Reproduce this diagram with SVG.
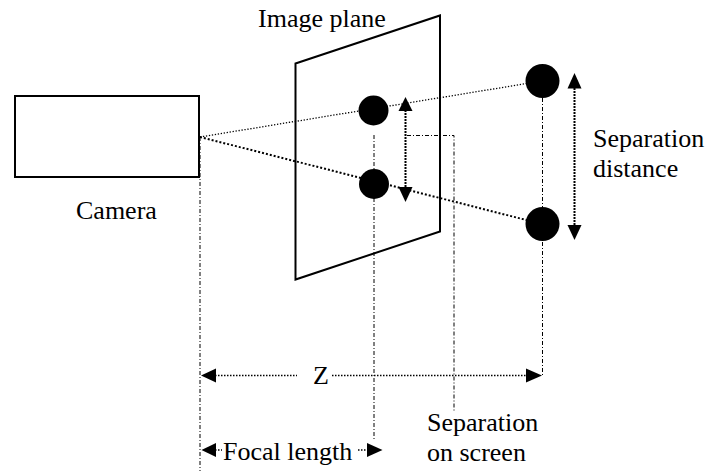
<svg xmlns="http://www.w3.org/2000/svg" width="710" height="471" viewBox="0 0 710 471">
<style>
.t{font-family:'Liberation Serif','Times New Roman',serif;font-size:26px;fill:#000}
.dd{fill:none;stroke:#000;stroke-width:1;stroke-dasharray:4 2 1 2}
.fine{fill:none;stroke:#000;stroke-width:1.3;stroke-dasharray:1.3 1.7}
.sq{fill:none;stroke:#000;stroke-width:2;stroke-dasharray:2 2}
.arr{fill:none;stroke:#000;stroke-width:2;stroke-dasharray:2 1}
.z{fill:none;stroke:#000;stroke-width:1.5;stroke-dasharray:1.5 1.5}
.head{fill:#000;stroke:none}
.ball{fill:#000}
.frame{fill:none;stroke:#000;stroke-width:2}
</style>
<g id="connectors">
  <line class="dd" x1="200" y1="137" x2="200" y2="471"/>
  <line class="dd" x1="374" y1="135" x2="374" y2="440"/>
  <line class="dd" x1="542.5" y1="98" x2="542.5" y2="376"/>
  <polyline class="dd" points="407,135.5 454,135.5 454,412"/>
  <line class="fine" x1="200" y1="137" x2="542" y2="81"/>
  <line class="sq" x1="200" y1="137" x2="542" y2="224"/>
  <line class="arr" x1="405.5" y1="110" x2="405.5" y2="188"/>
  <polygon class="head" points="405.5,97 398.5,111 412.5,111"/>
  <polygon class="head" points="405.5,202 398.5,187 412.5,187"/>
  <line class="arr" x1="574.5" y1="88" x2="574.5" y2="226"/>
  <polygon class="head" points="574.5,73 567.5,88.5 581.5,88.5"/>
  <polygon class="head" points="574.5,240 567.5,225 581.5,225"/>
  <line class="z" x1="215" y1="375.5" x2="297" y2="375.5"/>
  <line class="z" x1="332" y1="375.5" x2="526" y2="375.5"/>
  <polygon class="head" points="201,375.5 216,368.5 216,382.5"/>
  <polygon class="head" points="542,375.5 526,368.5 526,382.5"/>
  <line class="z" x1="215" y1="450" x2="222" y2="450"/>
  <line class="z" x1="358" y1="450" x2="368" y2="450"/>
  <polygon class="head" points="201.5,450 216,443 216,457"/>
  <polygon class="head" points="382.5,450 367,443 367,457"/>
</g>
<g id="camera">
  <rect class="frame" x="15" y="96" width="184" height="81"/>
  <text class="t" x="76" y="219">Camera</text>
</g>
<g id="image-plane">
  <polygon class="frame" points="295.5,63.5 440,15.5 440,231.5 295.5,279.5"/>
  <text class="t" x="258" y="27">Image plane</text>
</g>
<g id="image-point-top"><circle class="ball" cx="373.5" cy="110.5" r="15"/></g>
<g id="image-point-bottom"><circle class="ball" cx="374" cy="184" r="15"/></g>
<g id="object-point-top"><circle class="ball" cx="542.5" cy="81" r="17"/></g>
<g id="object-point-bottom"><circle class="ball" cx="542.5" cy="224" r="17"/></g>
<g id="labels">
  <text class="t" x="593" y="147">Separation</text>
  <text class="t" x="593" y="177">distance</text>
  <text class="t" x="313" y="384">Z</text>
  <text class="t" x="223" y="460">Focal length</text>
  <text class="t" x="427" y="431">Separation</text>
  <text class="t" x="427" y="461">on screen</text>
</g>
</svg>
